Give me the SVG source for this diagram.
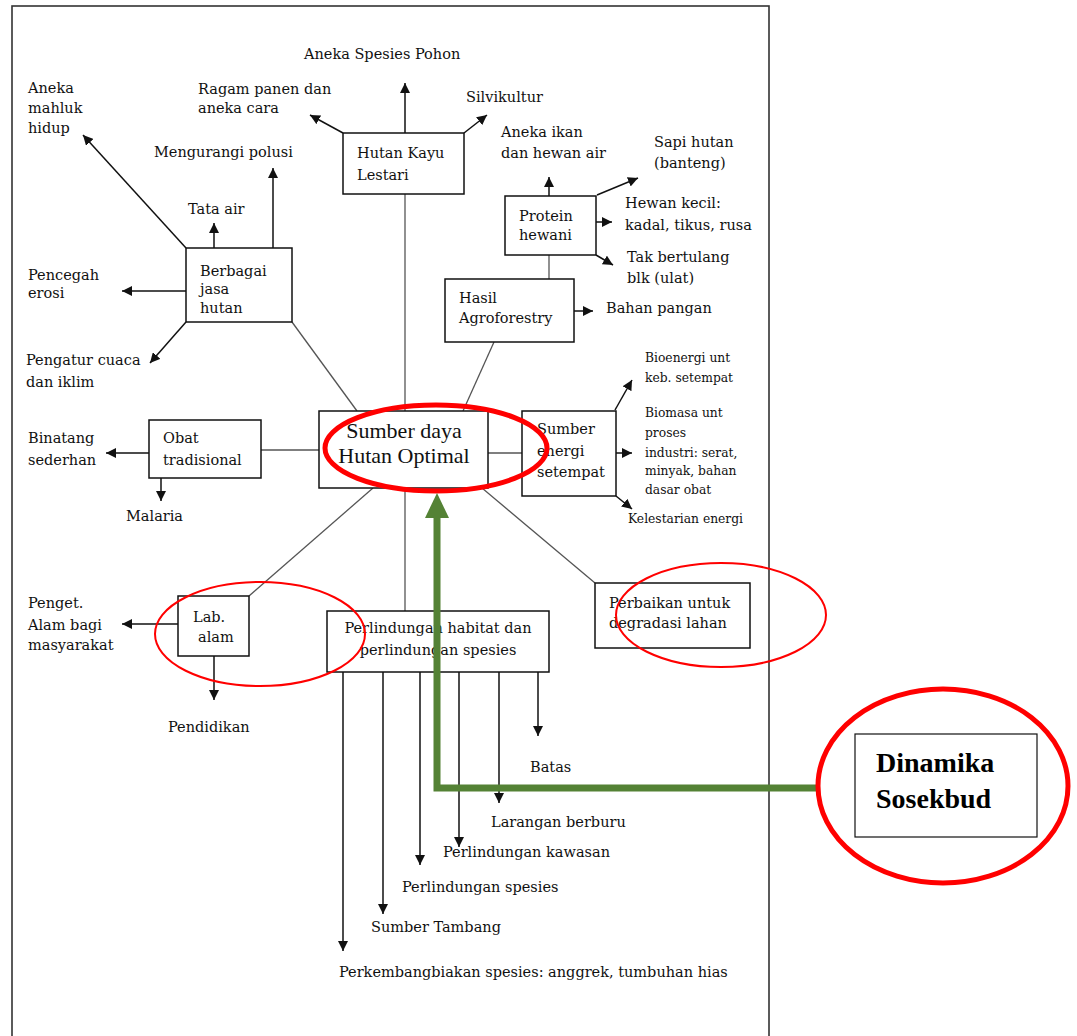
<svg xmlns="http://www.w3.org/2000/svg" width="1077" height="1036" viewBox="0 0 1077 1036">
<style>
text{font-family:"DejaVu Serif","Liberation Serif",serif;font-size:14.5px;fill:#111}
.sm{font-size:12.3px}
.big{font-family:"Liberation Serif","Times New Roman",serif;font-size:22px}
.bold{font-family:"Liberation Serif","Times New Roman",serif;font-size:28px;font-weight:bold;fill:#000}
.box{fill:#fff;stroke:#111;stroke-width:1.5}
.arr{stroke:#111;stroke-width:1.5;fill:none;marker-end:url(#ah)}
.ln{stroke:#555;stroke-width:1.3;fill:none}
.red{fill:none;stroke:#f00}
</style>
<defs>
<marker id="ah" markerUnits="userSpaceOnUse" markerWidth="11" markerHeight="10" refX="10" refY="5" orient="auto">
<path d="M0,0 L10,5 L0,10 z" fill="#111"/>
</marker>
</defs>
<rect width="1077" height="1036" fill="#fff"/>
<rect x="12" y="6" width="757" height="1045" fill="none" stroke="#333" stroke-width="1.6"/>

<g id="connectors">
<line class="ln" x1="405" y1="194" x2="405" y2="411"/>
<line class="ln" x1="405" y1="488" x2="405" y2="611"/>
<line class="ln" x1="292" y1="322" x2="357" y2="411"/>
<line class="ln" x1="549" y1="255" x2="549" y2="279" stroke="#111"/>
<line class="ln" x1="494" y1="342" x2="463" y2="411"/>
<line class="ln" x1="261" y1="450" x2="319" y2="450"/>
<line class="ln" x1="488" y1="453" x2="522" y2="453"/>
<line class="ln" x1="373" y1="488" x2="249" y2="596"/>
<line class="ln" x1="482" y1="488" x2="595" y2="583"/>
<line class="arr" x1="405" y1="133" x2="405" y2="83"/>
<line class="arr" x1="343" y1="133" x2="310" y2="115"/>
<line class="arr" x1="464" y1="133" x2="487" y2="115"/>
<line class="arr" x1="186" y1="248" x2="83" y2="135"/>
<line class="arr" x1="214" y1="248" x2="214" y2="223"/>
<line class="arr" x1="273" y1="248" x2="273" y2="168"/>
<line class="arr" x1="186" y1="291" x2="122" y2="291"/>
<line class="arr" x1="186" y1="322" x2="150" y2="363"/>
<line class="arr" x1="549" y1="196" x2="549" y2="177"/>
<line class="arr" x1="597" y1="195" x2="638" y2="178"/>
<line class="arr" x1="596" y1="222" x2="612" y2="222"/>
<line class="arr" x1="596" y1="255" x2="613" y2="265"/>
<line class="arr" x1="574" y1="311" x2="593" y2="311"/>
<line class="arr" x1="615" y1="410" x2="632" y2="380"/>
<line class="arr" x1="616" y1="453" x2="632" y2="453"/>
<line class="arr" x1="616" y1="496" x2="632" y2="509"/>
<line class="arr" x1="149" y1="453" x2="106" y2="453"/>
<line class="arr" x1="161" y1="478" x2="161" y2="501"/>
<line class="arr" x1="178" y1="624" x2="122" y2="624"/>
<line class="arr" x1="214" y1="656" x2="214" y2="700"/>
<line class="arr" x1="538" y1="672" x2="538" y2="736"/>
<line class="arr" x1="499" y1="672" x2="499" y2="803"/>
<line class="arr" x1="459" y1="672" x2="459" y2="847"/>
<line class="arr" x1="420" y1="672" x2="420" y2="865"/>
<line class="arr" x1="383" y1="672" x2="383" y2="914"/>
<line class="arr" x1="343" y1="672" x2="343" y2="951"/>
</g>

<g id="node-hutan-kayu"><rect class="box" x="343" y="133" width="121" height="61"/><text x="357" y="158">Hutan Kayu</text><text x="357" y="180">Lestari</text></g>
<g id="node-berbagai-jasa"><rect class="box" x="186" y="248" width="106" height="74"/><text x="200" y="276">Berbagai</text><text x="200" y="294">jasa</text><text x="200" y="313">hutan</text></g>
<g id="node-protein"><rect class="box" x="505" y="196" width="91" height="59"/><text x="519" y="221">Protein</text><text x="519" y="240">hewani</text></g>
<g id="node-hasil-agro"><rect class="box" x="445" y="279" width="129" height="63"/><text x="459" y="303">Hasil</text><text x="459" y="323">Agroforestry</text></g>
<g id="node-obat"><rect class="box" x="149" y="420" width="112" height="58"/><text x="163" y="443">Obat</text><text x="163" y="465">tradisional</text></g>
<g id="node-center"><rect class="box" x="319" y="411" width="169" height="77"/><text class="big" x="404" y="438" text-anchor="middle">Sumber daya</text><text class="big" x="404" y="463" text-anchor="middle">Hutan Optimal</text></g>
<g id="node-energi"><rect class="box" x="522" y="411" width="94" height="85"/><text x="537" y="434">Sumber</text><text x="537" y="456">energi</text><text x="537" y="477">setempat</text></g>
<g id="node-lab"><rect class="box" x="178" y="596" width="71" height="60"/><text x="193" y="622">Lab.</text><text x="198" y="642">alam</text></g>
<g id="node-perlindungan"><rect class="box" x="327" y="611" width="222" height="61"/><text x="438" y="633" text-anchor="middle">Perlindungan habitat dan</text><text x="438" y="655" text-anchor="middle">perlindungan spesies</text></g>
<g id="node-perbaikan"><rect class="box" x="595" y="583" width="155" height="65"/><text x="609" y="608">Perbaikan untuk</text><text x="609" y="628">degradasi lahan</text></g>

<g id="labels">
<g id="l-aneka-spesies"><text x="304" y="59">Aneka Spesies Pohon</text></g>
<g id="l-ragam"><text x="198" y="94">Ragam panen dan</text><text x="198" y="113">aneka cara</text></g>
<g id="l-silvikultur"><text x="466" y="102">Silvikultur</text></g>
<g id="l-aneka-mahluk"><text x="28" y="93">Aneka</text><text x="28" y="113">mahluk</text><text x="28" y="133">hidup</text></g>
<g id="l-mengurangi"><text x="154" y="157">Mengurangi polusi</text></g>
<g id="l-tata-air"><text x="188" y="214">Tata air</text></g>
<g id="l-pencegah"><text x="28" y="280">Pencegah</text><text x="28" y="298">erosi</text></g>
<g id="l-pengatur"><text x="26" y="365">Pengatur cuaca</text><text x="26" y="387">dan iklim</text></g>
<g id="l-aneka-ikan"><text x="501" y="137">Aneka ikan</text><text x="501" y="158">dan hewan air</text></g>
<g id="l-sapi"><text x="654" y="147">Sapi hutan</text><text x="654" y="168">(banteng)</text></g>
<g id="l-hewan-kecil"><text x="625" y="208">Hewan kecil:</text><text x="625" y="230">kadal, tikus, rusa</text></g>
<g id="l-tak-bertulang"><text x="627" y="262">Tak bertulang</text><text x="627" y="283">blk (ulat)</text></g>
<g id="l-bahan-pangan"><text x="606" y="313">Bahan pangan</text></g>
<g id="l-bioenergi"><text class="sm" x="645" y="362">Bioenergi unt</text><text class="sm" x="645" y="382">keb. setempat</text></g>
<g id="l-biomasa"><text class="sm" x="645" y="417">Biomasa unt</text><text class="sm" x="645" y="437">proses</text><text class="sm" x="645" y="457">industri: serat,</text><text class="sm" x="645" y="475">minyak, bahan</text><text class="sm" x="645" y="494">dasar obat</text></g>
<g id="l-kelestarian"><text class="sm" x="628" y="523">Kelestarian energi</text></g>
<g id="l-binatang"><text x="28" y="443">Binatang</text><text x="28" y="465">sederhan</text></g>
<g id="l-malaria"><text x="126" y="521">Malaria</text></g>
<g id="l-penget"><text x="28" y="608">Penget.</text><text x="28" y="630">Alam bagi</text><text x="28" y="650">masyarakat</text></g>
<g id="l-pendidikan"><text x="168" y="732">Pendidikan</text></g>
<g id="l-batas"><text x="530" y="772">Batas</text></g>
<g id="l-larangan"><text x="491" y="827">Larangan berburu</text></g>
<g id="l-kawasan"><text x="443" y="857">Perlindungan kawasan</text></g>
<g id="l-spesies"><text x="402" y="892">Perlindungan spesies</text></g>
<g id="l-tambang"><text x="371" y="932">Sumber Tambang</text></g>
<g id="l-perkembangbiakan"><text x="339" y="977">Perkembangbiakan spesies: anggrek, tumbuhan hias</text></g>
</g>

<g id="annotations">
<ellipse class="red" cx="436" cy="448" rx="111" ry="43" stroke-width="5"/>
<ellipse class="red" cx="260" cy="634" rx="105" ry="52" stroke-width="2"/>
<ellipse class="red" cx="721" cy="615" rx="105" ry="52" stroke-width="2"/>
<path d="M817,788 L437,788 L437,516" fill="none" stroke="#548235" stroke-width="7"/>
<polygon points="425,518 449,518 437,493" fill="#548235"/>
</g>

<g id="node-dinamika">
<ellipse class="red" cx="943" cy="786" rx="125" ry="97" stroke-width="5"/>
<rect x="855" y="734" width="182" height="103" fill="#fff" stroke="#111" stroke-width="1.2"/>
<text class="bold" x="876" y="772">Dinamika</text>
<text class="bold" x="876" y="808">Sosekbud</text>
</g>
</svg>
